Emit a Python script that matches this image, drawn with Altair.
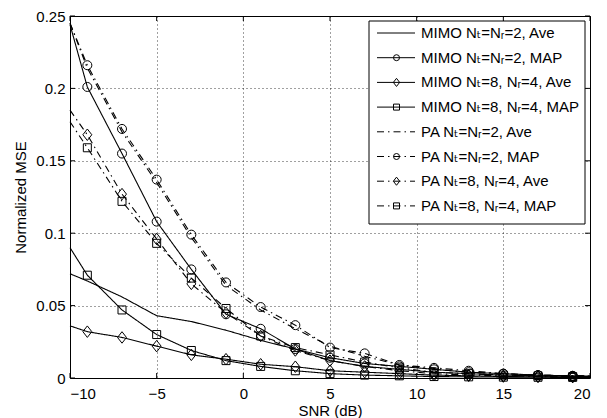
import altair as alt
import pandas as pd

# ---------------- data ----------------
snr = [-10, -9, -7, -5, -3, -1, 1, 3, 5, 7, 9, 11, 13, 15, 17, 19, 20]

mimo2_ave = [0.072, 0.067, 0.056, 0.043, 0.039, 0.033, 0.026, 0.020, 0.012, 0.008, 0.006, 0.004, 0.003, 0.002, 0.0015, 0.001, 0.001]
mimo2_map = [0.244, 0.201, 0.155, 0.108, 0.075, 0.044, 0.034, 0.020, 0.014, 0.010, 0.008, 0.006, 0.004, 0.003, 0.002, 0.0015, 0.0014]
mimo84_ave = [0.036, 0.032, 0.028, 0.022, 0.016, 0.013, 0.0095, 0.0078, 0.005, 0.004, 0.003, 0.002, 0.0015, 0.001, 0.0008, 0.0006, 0.0006]
mimo84_map = [0.090, 0.071, 0.047, 0.030, 0.019, 0.012, 0.008, 0.005, 0.003, 0.002, 0.0015, 0.001, 0.0008, 0.0006, 0.0005, 0.0004, 0.0004]
pa2_ave = [0.245, 0.214, 0.170, 0.135, 0.097, 0.064, 0.047, 0.034, 0.022, 0.015, 0.009, 0.006, 0.004, 0.003, 0.002, 0.0015, 0.0014]
pa2_map = [0.245, 0.216, 0.172, 0.137, 0.099, 0.066, 0.049, 0.0365, 0.021, 0.017, 0.009, 0.007, 0.005, 0.003, 0.002, 0.0015, 0.0014]
pa84_ave = [0.185, 0.168, 0.127, 0.096, 0.065, 0.045, 0.029, 0.019, 0.012, 0.008, 0.005, 0.003, 0.002, 0.0015, 0.001, 0.0008, 0.0007]
pa84_map = [0.177, 0.159, 0.122, 0.093, 0.069, 0.048, 0.029, 0.021, 0.016, 0.011, 0.007, 0.004, 0.003, 0.002, 0.0015, 0.001, 0.001]

labels = [
    "MIMO Nₜ=Nᵣ=2, Ave",
    "MIMO Nₜ=Nᵣ=2, MAP",
    "MIMO Nₜ=8, Nᵣ=4, Ave",
    "MIMO Nₜ=8, Nᵣ=4, MAP",
    "PA Nₜ=Nᵣ=2, Ave",
    "PA Nₜ=Nᵣ=2, MAP",
    "PA Nₜ=8, Nᵣ=4, Ave",
    "PA Nₜ=8, Nᵣ=4, MAP",
]
dashes = ["solid", "solid", "solid", "solid", "dashdot", "dashdot", "dashdot", "dashdot"]
markers = ["none", "circle", "diamond", "square", "none", "circle", "diamond", "square"]
values = [mimo2_ave, mimo2_map, mimo84_ave, mimo84_map, pa2_ave, pa2_map, pa84_ave, pa84_map]

x_ticks = [-10, -5, 0, 5, 10, 15, 20]
y_ticks = [0, 0.05, 0.1, 0.15, 0.2, 0.25]

# ---------------- tables ----------------
rows = []
for lab, d, m, vals in zip(labels, dashes, markers, values):
    for x, v in zip(snr, vals):
        rows.append({"snr": x, "mse": v, "series": lab, "dash": d, "marker": m})
df = pd.DataFrame(rows)

leg = pd.DataFrame({"label": labels, "dash": dashes, "marker": markers, "row": list(range(len(labels)))})
xt = pd.DataFrame({"t": x_ticks})
yt = pd.DataFrame({"t": y_ticks})

W, H = 520, 362
FONT = "Liberation Sans, Arial, DejaVu Sans"
DIAMOND = "M0,-1.35L1.05,0L0,1.35L-1.05,0Z"

xscale = alt.Scale(domain=[-10, 20], nice=False, zero=False)
yscale = alt.Scale(domain=[0, 0.25], nice=False, zero=False)
dash_scale = alt.Scale(domain=["solid", "dashdot"], range=[[1, 0], [7, 4, 1.5, 4]])
shape_scale = alt.Scale(domain=["circle", "diamond", "square"], range=["circle", DIAMOND, "square"])
size_scale = alt.Scale(domain=["circle", "diamond", "square"], range=[81, 64, 64])

xaxis = alt.Axis(values=x_ticks, grid=True, title="SNR (dB)", labelPadding=8, titlePadding=2)
yaxis = alt.Axis(values=y_ticks, grid=True, format="~g", title="Normalized MSE", labelPadding=5, titlePadding=7)

lines = alt.Chart(df).mark_line(color="black", strokeWidth=1.1).encode(
    x=alt.X("snr:Q", scale=xscale, axis=xaxis),
    y=alt.Y("mse:Q", scale=yscale, axis=yaxis),
    detail="series:N",
    strokeDash=alt.StrokeDash("dash:N", scale=dash_scale, legend=None),
)

points = alt.Chart(df).transform_filter(
    "datum.marker != 'none' && datum.snr % 2 != 0"
).mark_point(filled=False, color="black", strokeWidth=1, opacity=1).encode(
    x=alt.X("snr:Q", scale=xscale),
    y=alt.Y("mse:Q", scale=yscale),
    shape=alt.Shape("marker:N", scale=shape_scale, legend=None),
    size=alt.Size("marker:N", scale=size_scale, legend=None),
)

# inward ticks on all four sides
tick_len = 5
xt_bottom = alt.Chart(xt).mark_rule(color="black", strokeWidth=1).encode(
    x=alt.X("t:Q", scale=xscale), y=alt.value(H), y2=alt.value(H - tick_len))
xt_top = alt.Chart(xt).mark_rule(color="black", strokeWidth=1).encode(
    x=alt.X("t:Q", scale=xscale), y=alt.value(0), y2=alt.value(tick_len))
yt_left = alt.Chart(yt).mark_rule(color="black", strokeWidth=1).encode(
    y=alt.Y("t:Q", scale=yscale), x=alt.value(0), x2=alt.value(tick_len))
yt_right = alt.Chart(yt).mark_rule(color="black", strokeWidth=1).encode(
    y=alt.Y("t:Q", scale=yscale), x=alt.value(W - tick_len), x2=alt.value(W))

# manual legend
LX0, LX1, LY0, LY1 = 299, 515, 5, 208
box = alt.Chart(pd.DataFrame({"a": [0]})).mark_rect(fill="white", stroke="black", strokeWidth=1).encode(
    x=alt.value(LX0), x2=alt.value(LX1), y=alt.value(LY0), y2=alt.value(LY1))

legbase = alt.Chart(leg).transform_calculate(py="17 + 24.7 * datum.row")
leg_lines = legbase.mark_rule(color="black", strokeWidth=1).encode(
    x=alt.value(307), x2=alt.value(345),
    y=alt.Y("py:Q", scale=None, axis=None),
    strokeDash=alt.StrokeDash("dash:N", scale=dash_scale, legend=None),
)
leg_pts = legbase.transform_filter("datum.marker != 'none'").mark_point(
    filled=False, color="black", strokeWidth=1, opacity=1
).encode(
    x=alt.value(326.5),
    y=alt.Y("py:Q", scale=None, axis=None),
    shape=alt.Shape("marker:N", scale=shape_scale, legend=None),
    size=alt.value(36),
)
leg_text = legbase.mark_text(align="left", baseline="middle", font=FONT, fontSize=15, color="black").encode(
    x=alt.value(351),
    y=alt.Y("py:Q", scale=None, axis=None),
    text="label:N",
)

chart = alt.layer(
    lines, points, xt_bottom, xt_top, yt_left, yt_right, box, leg_lines, leg_pts, leg_text
).properties(
    width=W, height=H,
    autosize=alt.AutoSizeParams(type="none"),
    padding={"left": 62, "top": 8, "right": 9, "bottom": 45},
    background="white",
).configure_view(
    stroke="black", strokeWidth=1
).configure_axis(
    labelFont=FONT, titleFont=FONT, labelFontSize=15, titleFontSize=15,
    labelColor="black", titleColor="black", titleFontWeight="normal",
    domain=False, ticks=False,
    gridColor="black", gridDash=[1, 3], gridOpacity=0.75, gridWidth=1,
)

chart.save("out.html", embed_options={"renderer": "svg", "actions": False})
